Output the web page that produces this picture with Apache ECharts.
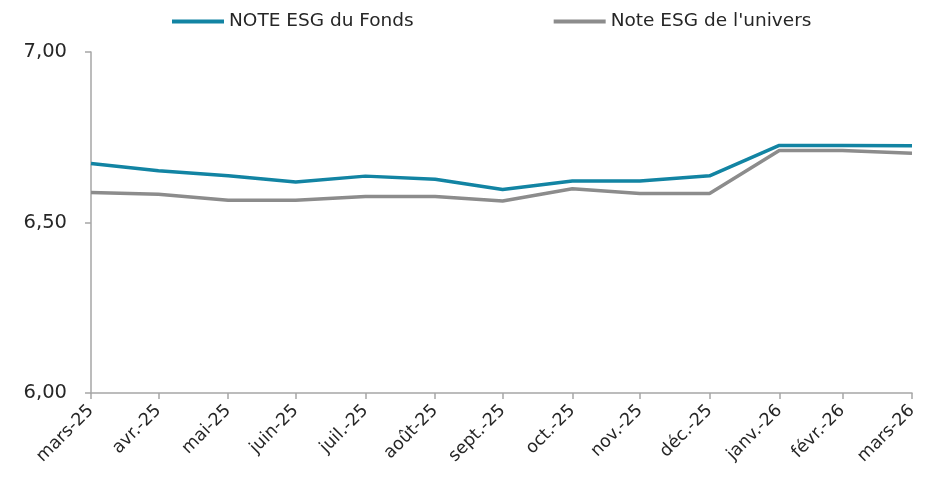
<!DOCTYPE html>
<html>
<head>
<meta charset="utf-8">
<script src="https://cdn.jsdelivr.net/npm/echarts@6/dist/echarts.min.js"></script>
<style>html,body{margin:0;padding:0;background:#fff;}#chart{width:939px;height:487px;}</style>
</head>
<body>
<div id="chart"></div>
<script>
const dates = ['2025-03-31','2025-04-30','2025-05-31','2025-06-30','2025-07-31','2025-08-31','2025-09-30','2025-10-31','2025-11-30','2025-12-31','2026-01-31','2026-02-28','2026-03-31'];
const tickLabels = ['mars-25','avr.-25','mai-25','juin-25','juil.-25','août-25','sept.-25','oct.-25','nov.-25','déc.-25','janv.-26','févr.-26','mars-26'];
const fundValues = [6.673,6.652,6.637,6.619,6.636,6.627,6.597,6.622,6.622,6.637,6.726,6.726,6.725];
const universeValues = [6.588,6.583,6.565,6.565,6.576,6.576,6.563,6.599,6.585,6.585,6.711,6.711,6.703];
const seriesNames = ['NOTE ESG du Fonds',"Note ESG de l'univers"];
const yTicks = [6, 6.5, 7];

function dayNum(s){const p=s.split('-').map(Number);return Math.round(Date.UTC(p[0],p[1]-1,p[2])/86400000);}
const x0 = dayNum(dates[0]);
const xs = dates.map(d=>dayNum(d)-x0);
const font = 'DejaVu Sans';
const chart = echarts.init(document.getElementById('chart'), null, {renderer:'canvas'});
chart.setOption({
  animation:false,
  legend:{
    left:167, top:7, icon:'rect', itemWidth:52, itemHeight:4, itemGap:140,
    textStyle:{fontFamily:font, fontSize:18.5, color:'#262626'},
    data:seriesNames
  },
  grid:{left:91, right:27, top:52, bottom:94, containLabel:false},
  xAxis:{
    type:'value', min:xs[0], max:xs[xs.length-1],
    axisLine:{lineStyle:{color:'#A6A6A6', width:1.5}},
    axisTick:{show:true, length:6, customValues:xs, lineStyle:{color:'#A6A6A6', width:1.5}},
    axisLabel:{customValues:xs, rotate:45, margin:15, fontFamily:font, fontSize:17.5, color:'#262626',
      formatter:function(v){const i=xs.indexOf(v);return i>=0?tickLabels[i]:'';}},
    splitLine:{show:false}
  },
  yAxis:{
    type:'value', min:yTicks[0], max:yTicks[2], interval:0.5,
    axisLine:{show:true, lineStyle:{color:'#A6A6A6', width:1.5}},
    axisTick:{show:true, length:6, lineStyle:{color:'#A6A6A6', width:1.5}},
    axisLabel:{margin:24, fontFamily:font, fontSize:19.5, color:'#262626',
      formatter:function(v){return v.toFixed(2).replace('.',',');}},
    splitLine:{show:false}
  },
  series:[
    {name:seriesNames[0], type:'line', data:xs.map((t,i)=>[t,fundValues[i]]), showSymbol:false, symbol:'none',
      lineStyle:{color:'#1284A3', width:3.5}, itemStyle:{color:'#1284A3'}},
    {name:seriesNames[1], type:'line', data:xs.map((t,i)=>[t,universeValues[i]]), showSymbol:false, symbol:'none',
      lineStyle:{color:'#8C8C8C', width:3.5}, itemStyle:{color:'#8C8C8C'}}
  ]
});
</script>
</body>
</html>
